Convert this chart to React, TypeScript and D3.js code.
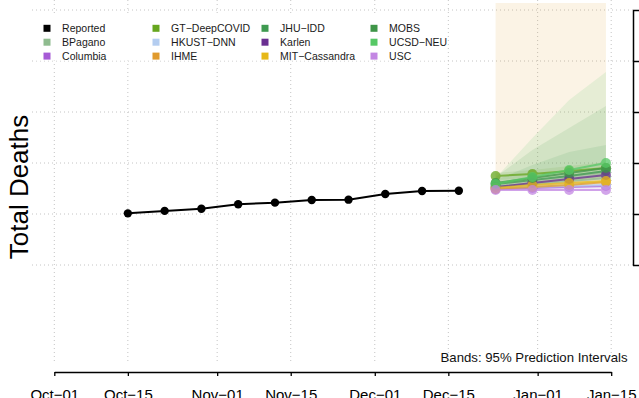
import React, { useRef, useEffect } from "react"
import * as d3 from "d3"

const reportedDates = [
  "2020-10-15", "2020-10-22", "2020-10-29", "2020-11-05", "2020-11-12",
  "2020-11-19", "2020-11-26", "2020-12-03", "2020-12-10", "2020-12-17",
]
const reportedDeaths = [103, 115, 127, 155, 167, 188, 191, 247, 282, 285]

const forecastDates = ["2020-12-24", "2020-12-31", "2021-01-07", "2021-01-14"]

const models = [
  "BPagano", "Columbia", "GT\u2212DeepCOVID", "HKUST\u2212DNN", "IHME", "JHU\u2212IDD",
  "Karlen", "MIT\u2212Cassandra", "MOBS", "UCSD\u2212NEU", "USC",
]
const modelColors = [
  "#8fbc8f", "#a65bd6", "#66a61e", "#b4cdf0", "#e09a2d", "#3e9a50",
  "#6a2f91", "#e6b818", "#3f9548", "#56c865", "#c387e3",
]

// point forecasts, one row per model
const pointForecast = [
  [354, 388, 444, 508],
  [309, 324, 338, 354],
  [556, 609, 697, 798],
  [324, 338, 354, 371],
  [309, 338, 371, 424],
  [388, 464, 556, 697],
  [338, 406, 486, 582],
  [324, 371, 406, 444],
  [406, 508, 637, 798],
  [388, 532, 729, 1000],
  [296, 296, 296, 296],
]
// 95% prediction interval bounds
const lowerBound = [
  [309, 338, 371, 424],
  [296, 296, 309, 309],
  [464, 508, 556, 609],
  [296, 309, 309, 324],
  [296, 324, 354, 388],
  [354, 406, 464, 532],
  [309, 354, 406, 486],
  [296, 324, 354, 388],
  [371, 424, 486, 556],
  [354, 406, 464, 532],
  [283, 283, 283, 283],
]
const upperBound = [
  [406, 464, 556, 666],
  [324, 354, 371, 406],
  [637, 729, 874, 1046],
  [354, 371, 406, 444],
  [1370000, 1370000, 1370000, 1370000],
  [464, 914, 1643, 2254],
  [371, 464, 582, 729],
  [354, 424, 486, 556],
  [532, 1798, 4858, 13115],
  [508, 3093, 17190, 60890],
  [309, 309, 309, 309],
]

const xTickDates = [
  "2020-10-01", "2020-10-15", "2020-11-01", "2020-11-15",
  "2020-12-01", "2020-12-15", "2021-01-01", "2021-01-15",
]
const xTickLabels = [
  "Oct\u221201", "Oct\u221215", "Nov\u221201", "Nov\u221215",
  "Dec\u221201", "Dec\u221215", "Jan\u221201", "Jan\u221215",
]
const yTicks = [10, 100, 1000, 10000, 100000, 1000000]

const WIDTH = 639
const HEIGHT = 398
const FONT = "'Liberation Sans', Arial, Helvetica, sans-serif"

export default function App() {
  const svgRef = useRef<SVGSVGElement>(null)

  useEffect(() => {
    if (svgRef.current == null) return
    const svg = d3.select(svgRef.current)
    svg.selectAll("*").remove()
    drawChart(svg)
  }, [])

  return (
    <svg
      ref={svgRef}
      width={WIDTH}
      height={HEIGHT}
      style={{ position: "absolute", left: 0, top: 0, background: "#fff" }}
    />
  )
}

function drawChart(svg) {
  const parse = d3.utcParse("%Y-%m-%d")
  const plot = { left: 32, right: 633, top: 0, bottom: 362 }

  const xScale = d3
    .scaleUtc()
    .domain([parse("2020-10-01"), parse("2021-01-15")])
    .range([54.3, 611.2])

  const yScale = d3.scaleLog().domain([10, 1e6]).range([265, 10])

  svg
    .append("defs")
    .append("clipPath")
    .attr("id", "plot-clip")
    .append("rect")
    .attr("x", plot.left)
    .attr("y", plot.top)
    .attr("width", plot.right - plot.left)
    .attr("height", plot.bottom - plot.top)

  // dotted grid
  const grid = svg
    .append("g")
    .attr("stroke", "#c4c4c4")
    .attr("stroke-width", 1)
    .attr("stroke-dasharray", "1 3")

  grid
    .selectAll("line.v")
    .data(xTickDates)
    .enter()
    .append("line")
    .attr("x1", d => xScale(parse(d)))
    .attr("x2", d => xScale(parse(d)))
    .attr("y1", plot.top)
    .attr("y2", plot.bottom)

  grid
    .selectAll("line.h")
    .data(yTicks)
    .enter()
    .append("line")
    .attr("x1", plot.left)
    .attr("x2", plot.right)
    .attr("y1", d => yScale(d))
    .attr("y2", d => yScale(d))

  const layer = svg.append("g").attr("clip-path", "url(#plot-clip)")
  const fDates = forecastDates.map(d => parse(d))

  // prediction bands
  models.forEach((m, k) => {
    const band = d3
      .area<number>()
      .x((_, i) => xScale(fDates[i]))
      .y0((_, i) => yScale(lowerBound[k][i]))
      .y1((_, i) => yScale(upperBound[k][i]))
    layer
      .append("path")
      .attr("d", band(fDates.map((_, i) => i)))
      .attr("fill", modelColors[k])
      .attr("fill-opacity", 0.12)
  })

  // reported
  const reportedLine = d3
    .line<number>()
    .x((_, i) => xScale(parse(reportedDates[i])))
    .y(d => yScale(d))

  layer
    .append("path")
    .attr("d", reportedLine(reportedDeaths))
    .attr("fill", "none")
    .attr("stroke", "#000")
    .attr("stroke-width", 2)

  layer
    .selectAll("circle.rep")
    .data(reportedDeaths)
    .enter()
    .append("circle")
    .attr("cx", (_, i) => xScale(parse(reportedDates[i])))
    .attr("cy", d => yScale(d))
    .attr("r", 4.2)
    .attr("fill", "#000")

  // forecasts
  models.forEach((m, k) => {
    const line = d3
      .line<number>()
      .x((_, i) => xScale(fDates[i]))
      .y(d => yScale(d))
    const g = layer.append("g").attr("opacity", 0.75)
    g.append("path")
      .attr("d", line(pointForecast[k]))
      .attr("fill", "none")
      .attr("stroke", modelColors[k])
      .attr("stroke-width", 2)
    g.selectAll("circle")
      .data(pointForecast[k])
      .enter()
      .append("circle")
      .attr("cx", (_, i) => xScale(fDates[i]))
      .attr("cy", d => yScale(d))
      .attr("r", 5)
      .attr("fill", modelColors[k])
  })

  // bottom axis
  const xAxis = d3
    .axisBottom(xScale)
    .tickValues(xTickDates.map(d => parse(d)))
    .tickFormat((_, i) => xTickLabels[i])
    .tickSize(4)
    .tickSizeOuter(0)
    .tickPadding(13)

  const xAxisG = svg
    .append("g")
    .attr("transform", "translate(0,372)")
    .call(xAxis)
  xAxisG.select(".domain").attr("stroke", "#000").attr("stroke-width", 1.3)
  xAxisG.selectAll(".tick line").attr("stroke", "#000").attr("stroke-width", 1.3)
  xAxisG
    .selectAll(".tick text")
    .attr("fill", "#000")
    .style("font-family", FONT)
    .style("font-size", "15px")

  // right axis (labels fall outside the frame)
  const yAxis = d3
    .axisRight(yScale)
    .tickValues(yTicks)
    .tickFormat(() => "")
    .tickSize(7)
    .tickSizeOuter(0)
  const yAxisG = svg
    .append("g")
    .attr("transform", "translate(633,0)")
    .call(yAxis)
  yAxisG.select(".domain").attr("stroke", "#000").attr("stroke-width", 1.5)
  yAxisG.selectAll(".tick line").attr("stroke", "#000").attr("stroke-width", 1.5)

  // y label
  svg
    .append("text")
    .attr("transform", "translate(28,187) rotate(-90)")
    .attr("text-anchor", "middle")
    .style("font-family", FONT)
    .style("font-size", "26px")
    .attr("fill", "#000")
    .text("Total Deaths")

  // bands note
  svg
    .append("text")
    .attr("x", 627.5)
    .attr("y", 361.5)
    .attr("text-anchor", "end")
    .style("font-family", FONT)
    .style("font-size", "13.2px")
    .attr("fill", "#111")
    .text("Bands: 95% Prediction Intervals")

  // legend
  const legendNames = ["Reported"].concat(models)
  const legendColors = ["#000"].concat(modelColors)

  svg
    .append("rect")
    .attr("x", 36)
    .attr("y", 15)
    .attr("width", 411)
    .attr("height", 45.5)
    .attr("fill", "#fff")

  const legend = svg
    .append("g")
    .selectAll("g")
    .data(legendNames)
    .enter()
    .append("g")
    .attr("transform", (_, i) => {
      const col = Math.floor(i / 3)
      const row = i % 3
      return `translate(${43.5 + col * 109},${28.3 + row * 13.9})`
    })

  legend
    .append("rect")
    .attr("x", 0)
    .attr("y", -3.5)
    .attr("width", 7)
    .attr("height", 7)
    .attr("fill", (_, i) => legendColors[i])

  legend
    .append("text")
    .attr("x", 18.6)
    .attr("y", 0)
    .attr("dy", "0.35em")
    .style("font-family", FONT)
    .style("font-size", "10.5px")
    .attr("fill", "#1a1a1a")
    .text(d => d)
}
